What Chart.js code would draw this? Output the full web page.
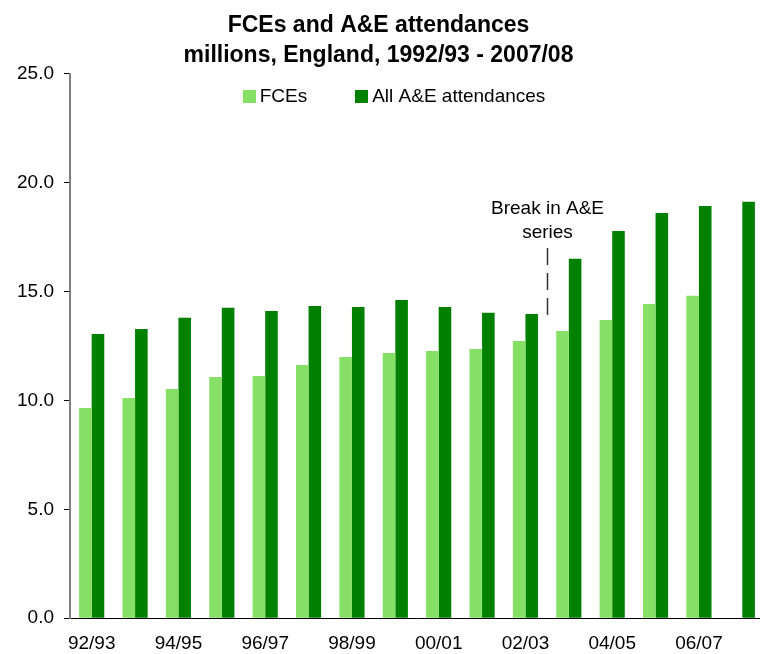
<!DOCTYPE html>
<html>
<head>
<meta charset="utf-8">
<script src="https://cdn.jsdelivr.net/npm/chart.js@4/dist/chart.umd.min.js"></script>
<style>
  html, body { margin: 0; padding: 0; background: #fff; overflow: hidden; }
  #wrap { width: 764px; height: 654px; }
</style>
</head>
<body>
<div id="wrap"><canvas id="c" width="764" height="654"></canvas></div>
<script>
const categories = ['92/93','93/94','94/95','95/96','96/97','97/98','98/99','99/00','00/01','01/02','02/03','03/04','04/05','05/06','06/07','07/08'];
const fces = [9.65, 10.11, 10.52, 11.08, 11.12, 11.63, 11.99, 12.18, 12.27, 12.36, 12.73, 13.19, 13.69, 14.43, 14.80, null];
const aeAttendances = [13.05, 13.28, 13.79, 14.25, 14.11, 14.34, 14.29, 14.61, 14.29, 14.02, 13.97, 16.50, 17.78, 18.60, 18.93, 19.12];
const seriesNames = ['FCEs', 'All A&E attendances'];
const titleLines = ['FCEs and A&E attendances', 'millions, England, 1992/93 - 2007/08'];
const breakNote = ['Break in A&E', 'series'];
const breakAfter = '02/03';

const FONT = '"Liberation Sans", Arial, sans-serif';
const TXT = 19;

const legendPlugin = {
  id: 'customLegend',
  afterDraw(chart) {
    const ctx = chart.ctx;
    ctx.save();
    ctx.font = TXT + 'px ' + FONT;
    ctx.textBaseline = 'middle';
    const box = 13, gapText = 4, gapItem = 48;
    const items = chart.data.datasets.map(d => ({ label: d.label, color: d.backgroundColor, w: box + gapText + ctx.measureText(d.label).width }));
    const total = items.reduce((s, it) => s + it.w, 0) + gapItem * (items.length - 1);
    let x = 394 - total / 2;
    const y = 96.5;
    items.forEach(it => {
      ctx.fillStyle = it.color;
      ctx.fillRect(Math.round(x), y - box / 2, box, box);
      ctx.fillStyle = '#000';
      ctx.textAlign = 'left';
      ctx.fillText(it.label, x + box + gapText, y + 0.5);
      x += it.w + gapItem;
    });
    ctx.restore();
  }
};

const breakPlugin = {
  id: 'breakNote',
  afterDatasetsDraw(chart) {
    const xs = chart.scales.x, ys = chart.scales.y;
    const i = categories.indexOf(breakAfter);
    const x = Math.round((xs.getPixelForValue(i) + xs.getPixelForValue(i + 1)) / 2) + 0.5;
    const ctx = chart.ctx;
    ctx.save();
    ctx.strokeStyle = '#333';
    ctx.lineWidth = 1.5;
    ctx.setLineDash([17, 8]);
    ctx.beginPath();
    ctx.moveTo(x, ys.getPixelForValue(17.0));
    ctx.lineTo(x, ys.getPixelForValue(13.62));
    ctx.stroke();
    ctx.setLineDash([]);
    ctx.fillStyle = '#000';
    ctx.font = TXT + 'px ' + FONT;
    ctx.textAlign = 'center';
    ctx.textBaseline = 'middle';
    ctx.fillText(breakNote[0], x, ys.getPixelForValue(18.8));
    ctx.fillText(breakNote[1], x, ys.getPixelForValue(17.7));
    ctx.restore();
  }
};

new Chart(document.getElementById('c'), {
  type: 'bar',
  data: {
    labels: categories,
    datasets: [
      { label: seriesNames[0], data: fces, backgroundColor: '#86E066', borderWidth: 0 },
      { label: seriesNames[1], data: aeAttendances, backgroundColor: '#008000', borderWidth: 0 }
    ]
  },
  options: {
    responsive: false,
    animation: false,
    devicePixelRatio: 1,
    layout: { padding: { left: -7, right: 0, top: 0, bottom: -15 } },
    datasets: { bar: { categoryPercentage: 0.58, barPercentage: 1.0 } },
    plugins: {
      legend: { display: false },
      tooltip: { enabled: false },
      title: {
        display: true,
        text: titleLines,
        color: '#000',
        font: { family: FONT, size: 23, weight: 'bold', lineHeight: 1.32 },
        padding: { top: 10, bottom: 3 }
      }
    },
    scales: {
      x: {
        grid: { display: false, drawTicks: false },
        border: { display: true, color: '#000', width: 1 },
        ticks: {
          autoSkip: false, maxRotation: 0, color: '#000', padding: 14,
          font: { family: FONT, size: TXT },
          callback: function(v, i) { return i % 2 === 0 ? categories[i] : ''; }
        }
      },
      y: {
        min: 0, max: 25,
        afterFit: s => { s.width = 77; },
        grid: { display: true, drawOnChartArea: false, drawTicks: true, tickLength: 6, color: '#000' },
        border: { display: true, color: '#808080', width: 2 },
        ticks: {
          stepSize: 5, color: '#000', padding: 10,
          font: { family: FONT, size: TXT },
          callback: v => v.toFixed(1)
        }
      }
    }
  },
  plugins: [legendPlugin, breakPlugin]
});
</script>
</body>
</html>
